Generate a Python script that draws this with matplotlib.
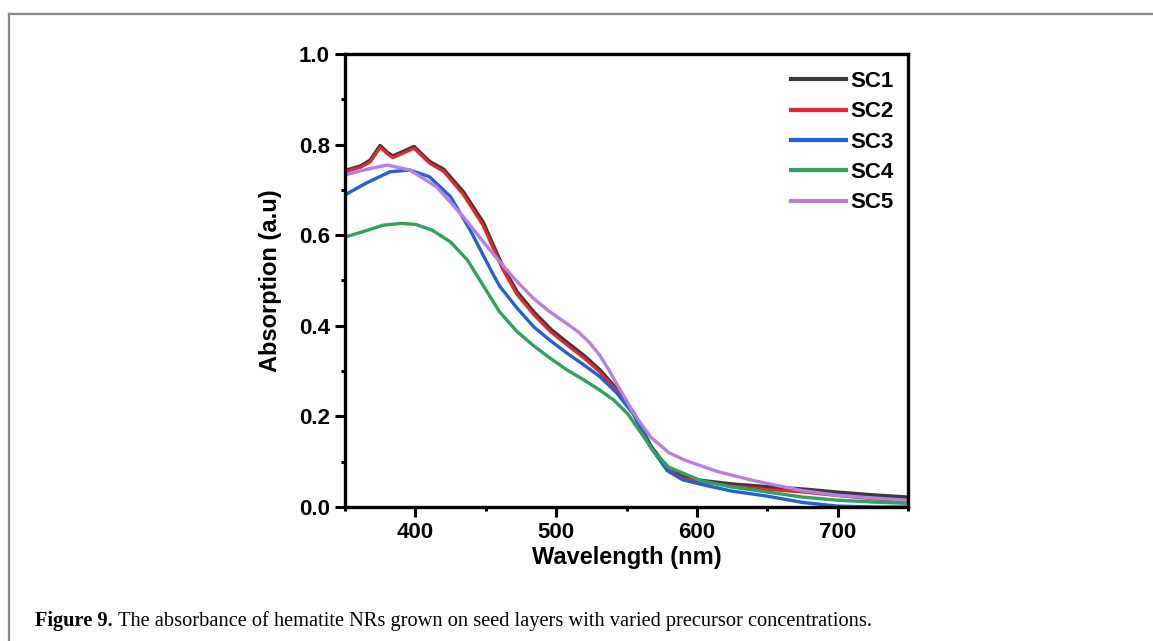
import matplotlib
matplotlib.use("Agg")
import matplotlib.pyplot as plt
from matplotlib.lines import Line2D
from matplotlib.ticker import MultipleLocator

# series (wavelength in nm, absorption in a.u.)
wl_sc1 = [350, 361, 368, 375, 380, 384, 392, 399, 410, 420, 434, 448, 462, 472, 484, 496,
          508, 520, 531, 543, 555, 567, 579, 590, 603, 625, 650, 675, 700, 725, 750]
ab_sc1 = [0.742, 0.752, 0.765, 0.797, 0.782, 0.774, 0.785, 0.795, 0.762, 0.745, 0.695, 0.628,
          0.530, 0.475, 0.430, 0.392, 0.362, 0.333, 0.302, 0.260, 0.207, 0.135, 0.085, 0.066,
          0.058, 0.050, 0.044, 0.039, 0.032, 0.026, 0.021]

wl_sc2 = wl_sc1
ab_sc2 = [0.740, 0.750, 0.762, 0.794, 0.780, 0.771, 0.782, 0.792, 0.759, 0.741, 0.690, 0.622,
          0.525, 0.470, 0.425, 0.387, 0.357, 0.328, 0.298, 0.257, 0.205, 0.133, 0.083, 0.063,
          0.056, 0.046, 0.039, 0.033, 0.025, 0.018, 0.013]

wl_sc3 = [350, 365, 382, 396, 410, 425, 439, 455, 460, 472, 484, 496, 508, 520, 531, 543,
          555, 567, 579, 590, 603, 625, 650, 675, 700, 725, 750]
ab_sc3 = [0.689, 0.715, 0.740, 0.744, 0.729, 0.685, 0.611, 0.515, 0.487, 0.440, 0.398, 0.367,
          0.339, 0.313, 0.288, 0.252, 0.205, 0.133, 0.080, 0.060, 0.050, 0.035, 0.024, 0.010,
          0.002, 0.0, 0.0]

wl_sc4 = [350, 363, 377, 390, 400, 412, 425, 437, 448, 460, 472, 484, 496, 508, 520, 531,
          541, 551, 560, 570, 580, 603, 625, 650, 675, 700, 725, 750]
ab_sc4 = [0.596, 0.608, 0.622, 0.626, 0.624, 0.611, 0.585, 0.545, 0.490, 0.430, 0.388, 0.356,
          0.328, 0.302, 0.280, 0.258, 0.236, 0.205, 0.165, 0.120, 0.088, 0.058, 0.044, 0.033,
          0.022, 0.015, 0.011, 0.008]

wl_sc5 = [350, 365, 380, 396, 415, 434, 453, 470, 484, 496, 508, 516, 524, 531, 537, 543,
          549, 555, 567, 580, 591, 600, 615, 638, 650, 675, 700, 725, 750]
ab_sc5 = [0.733, 0.745, 0.755, 0.744, 0.707, 0.641, 0.567, 0.505, 0.460, 0.430, 0.404, 0.386,
          0.362, 0.335, 0.305, 0.272, 0.240, 0.207, 0.155, 0.120, 0.104, 0.094, 0.078, 0.060,
          0.052, 0.036, 0.026, 0.020, 0.015]

labels = ["SC1", "SC2", "SC3", "SC4", "SC5"]
colors = ["#3a3a3a", "#e8262b", "#1f62d8", "#2ea35c", "#b77ee8"]

xticks = [400, 500, 600, 700]
yticks = [0.0, 0.2, 0.4, 0.6, 0.8, 1.0]

plt.rcParams["font.family"] = ["Liberation Sans", "DejaVu Sans"]
plt.rcParams["font.weight"] = "bold"

fig = plt.figure(figsize=(11.53, 6.41), dpi=100)
ax = fig.add_axes([345 / 1153, 1 - 507 / 641, 563 / 1153, 453 / 641])

series = [(wl_sc1, ab_sc1), (wl_sc2, ab_sc2), (wl_sc3, ab_sc3), (wl_sc4, ab_sc4), (wl_sc5, ab_sc5)]
widths = [3.0, 2.2, 2.4, 2.4, 2.4]
# draw SC1 first and SC2 on top so black peeks around the red like the original
order = [0, 1, 4, 3, 2]
for i in order:
    x, y = series[i]
    ax.plot(x, y, color=colors[i], lw=widths[i], solid_capstyle="round", zorder=2 + i * 0.1)

ax.set_xlim(350, 750)
ax.set_ylim(0, 1.0)
ax.set_xticks(xticks)
ax.set_yticks(yticks)
ax.set_yticklabels([f"{v:.1f}" for v in yticks])
ax.xaxis.set_minor_locator(MultipleLocator(50))
ax.yaxis.set_minor_locator(MultipleLocator(0.1))
ax.tick_params(which="major", direction="out", length=7, width=2.2, labelsize=16, pad=4,
               top=False, right=False)
ax.tick_params(which="minor", direction="out", length=3, width=2.2, top=False, right=False)
for s in ax.spines.values():
    s.set_linewidth(2.4)

ax.set_xlabel("Wavelength (nm)", fontsize=17, fontweight="bold")
ax.set_ylabel("Absorption (a.u)", fontsize=17, fontweight="bold")
ax.xaxis.set_label_coords(0.5, -0.087)
ax.yaxis.set_label_coords(-0.112, 0.5)

handles = [Line2D([], [], color=c, lw=3) for c in colors]
ax.legend(handles, labels, loc="upper right", bbox_to_anchor=(894 / 1153, 1 - 71 / 641),
          bbox_transform=fig.transFigure, frameon=False, fontsize=16, handlelength=2.5,
          handletextpad=0.2, labelspacing=0.42, borderpad=0, borderaxespad=0)

# outer frame (only top and left edges are visible in the crop)
fig.add_artist(Line2D([9 / 1153, 9 / 1153], [0, 1 - 14 / 641], transform=fig.transFigure,
                      color="#888888", lw=1.6))
fig.add_artist(Line2D([9 / 1153, 1], [1 - 14 / 641, 1 - 14 / 641], transform=fig.transFigure,
                      color="#888888", lw=1.6))

# caption
serif = ["Liberation Serif", "DejaVu Serif"]
t1 = fig.text(35 / 1153, 1 - 626 / 641, "Figure 9.", family=serif, fontsize=14.7,
              fontweight="bold", va="baseline", ha="left")
fig.canvas.draw()
bb = t1.get_window_extent()
fig.text((bb.x1 + 5) / 1153, 1 - 626 / 641,
         "The absorbance of hematite NRs grown on seed layers with varied precursor concentrations.",
         family=serif, fontsize=14.7, fontweight="normal", va="baseline", ha="left")

fig.savefig("out.png", dpi=100)
